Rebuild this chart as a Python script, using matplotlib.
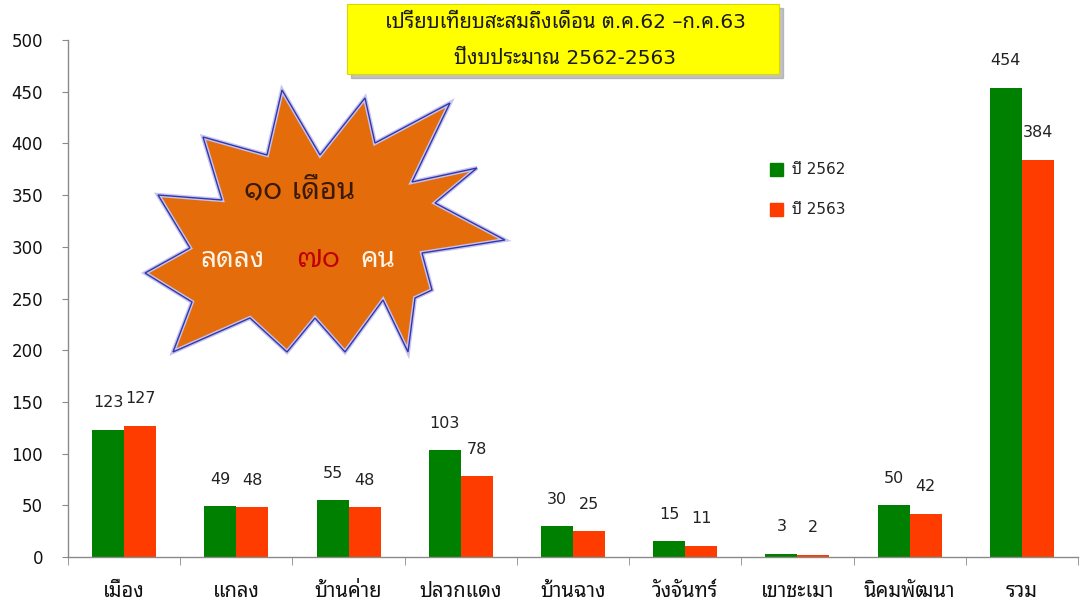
import matplotlib
matplotlib.use('Agg')
import matplotlib.pyplot as plt
from matplotlib import font_manager
from matplotlib.patches import Rectangle, Polygon
import numpy as np

# data
categories = ['เมือง', 'แกลง', 'บ้านค่าย', 'ปลวกแดง', 'บ้านฉาง', 'วังจันทร์', 'เขาชะเมา', 'นิคมพัฒนา', 'รวม']
y2562 = [123, 49, 55, 103, 30, 15, 3, 50, 454]
y2563 = [127, 48, 48, 78, 25, 11, 2, 42, 384]
series_names = ['ปี 2562', 'ปี 2563']
yticks = [0, 50, 100, 150, 200, 250, 300, 350, 400, 450, 500]
title_lines = ['เปรียบเทียบสะสมถึงเดือน ต.ค.62 \u2013ก.ค.63', 'ปีงบประมาณ 2562-2563']

# pick a thai font that is installed
thai_pref = ['Tahoma', 'Noto Sans Thai Looped', 'Sarabun', 'IBM Plex Sans Thai Looped',
             'Noto Sans Thai', 'Anuphan', 'Bai Jamjuree']
names = {f.name for f in font_manager.fontManager.ttflist}
thai = next((n for n in thai_pref if n in names), 'DejaVu Sans')
plt.rcParams['font.family'] = ['DejaVu Sans', thai]

green = '#008000'
red = '#FF3C00'
axcol = '#8a8a8a'

W, H = 1085, 606
fig = plt.figure(figsize=(W / 100, H / 100), dpi=100)
ax = fig.add_axes([68 / W, 1 - 557 / H, (1078 - 68) / W, (557 - 40) / H])

x = np.arange(len(categories))
bw = 0.285
b1 = ax.bar(x - bw / 2, y2562, bw, color=green, zorder=2)
b2 = ax.bar(x + bw / 2, y2563, bw, color=red, zorder=2)
for bars, vals in ((b1, y2562), (b2, y2563)):
    for b, v in zip(bars, vals):
        ax.annotate(str(v), (b.get_x() + b.get_width() / 2, v), xytext=(0, 14),
                    textcoords='offset points', ha='center', va='bottom',
                    fontsize=11.5, color='#222222')

ax.set_xlim(-0.5, len(categories) - 0.5)
ax.set_ylim(0, 500)
ax.set_yticks(yticks)
ax.set_xticks(x)
ax.set_xticklabels(categories, fontsize=14.5, color='#111111')
ax.set_xticks(np.arange(len(categories) + 1) - 0.5, minor=True)
ax.tick_params(axis='x', which='major', length=0, pad=18)
ax.tick_params(axis='x', which='minor', length=6, color=axcol, direction='out')
ax.tick_params(axis='y', length=4, color=axcol, pad=14, labelsize=12, labelcolor='#111111')
for s in ('top', 'right'):
    ax.spines[s].set_visible(False)
for s in ('left', 'bottom'):
    ax.spines[s].set_color(axcol)
    ax.spines[s].set_linewidth(1.0)

# overlay in pixel coordinates for the decorations
ov = fig.add_axes([0, 0, 1, 1])
ov.set_xlim(0, W)
ov.set_ylim(H, 0)
ov.axis('off')
ov.patch.set_alpha(0)

# title box with shadow
ov.add_patch(Rectangle((351, 8), 432, 70, color='#9a9a9a', alpha=0.6, zorder=1))
ov.add_patch(Rectangle((347, 4), 432, 70, facecolor='#FFFF00', edgecolor='#d8d800', lw=0.8, zorder=2))
ov.text(565, 22, title_lines[0], ha='center', va='center', fontsize=14.5, color='#1a1a1a', zorder=3)
ov.text(565, 58, title_lines[1], ha='center', va='center', fontsize=14.5, color='#1a1a1a', zorder=3)

# starburst outline (tip, valley, tip, ...)
star = [(282, 90), (320, 155), (365, 98), (375, 143), (450, 103), (412, 182),
        (477, 168), (435, 203), (505, 240), (422, 253), (432, 290), (415, 298),
        (408, 352), (383, 300), (345, 352), (315, 318), (287, 352), (250, 318),
        (173, 352), (192, 302), (145, 273), (190, 248), (158, 195), (222, 200),
        (203, 137), (267, 155)]
ov.add_patch(Polygon(star, closed=True, facecolor='#E46C0A', edgecolor='#c4c4f2', lw=3.0, zorder=1))
ov.add_patch(Polygon(star, closed=True, facecolor='none', edgecolor='#3535a8', lw=1.0, zorder=2))
ov.text(300, 190, '๑๐ เดือน', ha='center', va='center', fontsize=21, color='#3a1a05', zorder=3)
ov.text(232, 259, 'ลดลง', ha='center', va='center', fontsize=20, color='#FFF4E6', zorder=3)
ov.text(318, 259, '๗๐', ha='center', va='center', fontsize=20, color='#C00000', zorder=3)
ov.text(378, 259, 'คน', ha='center', va='center', fontsize=20, color='#FFF4E6', zorder=3)

# legend
for yy, col, lab in ((170, green, series_names[0]), (210, red, series_names[1])):
    ov.add_patch(Rectangle((770, yy - 7), 13, 13, color=col))
    ov.text(792, yy, lab, ha='left', va='center', fontsize=11, color='#222222')

fig.savefig('out.png', dpi=100)
